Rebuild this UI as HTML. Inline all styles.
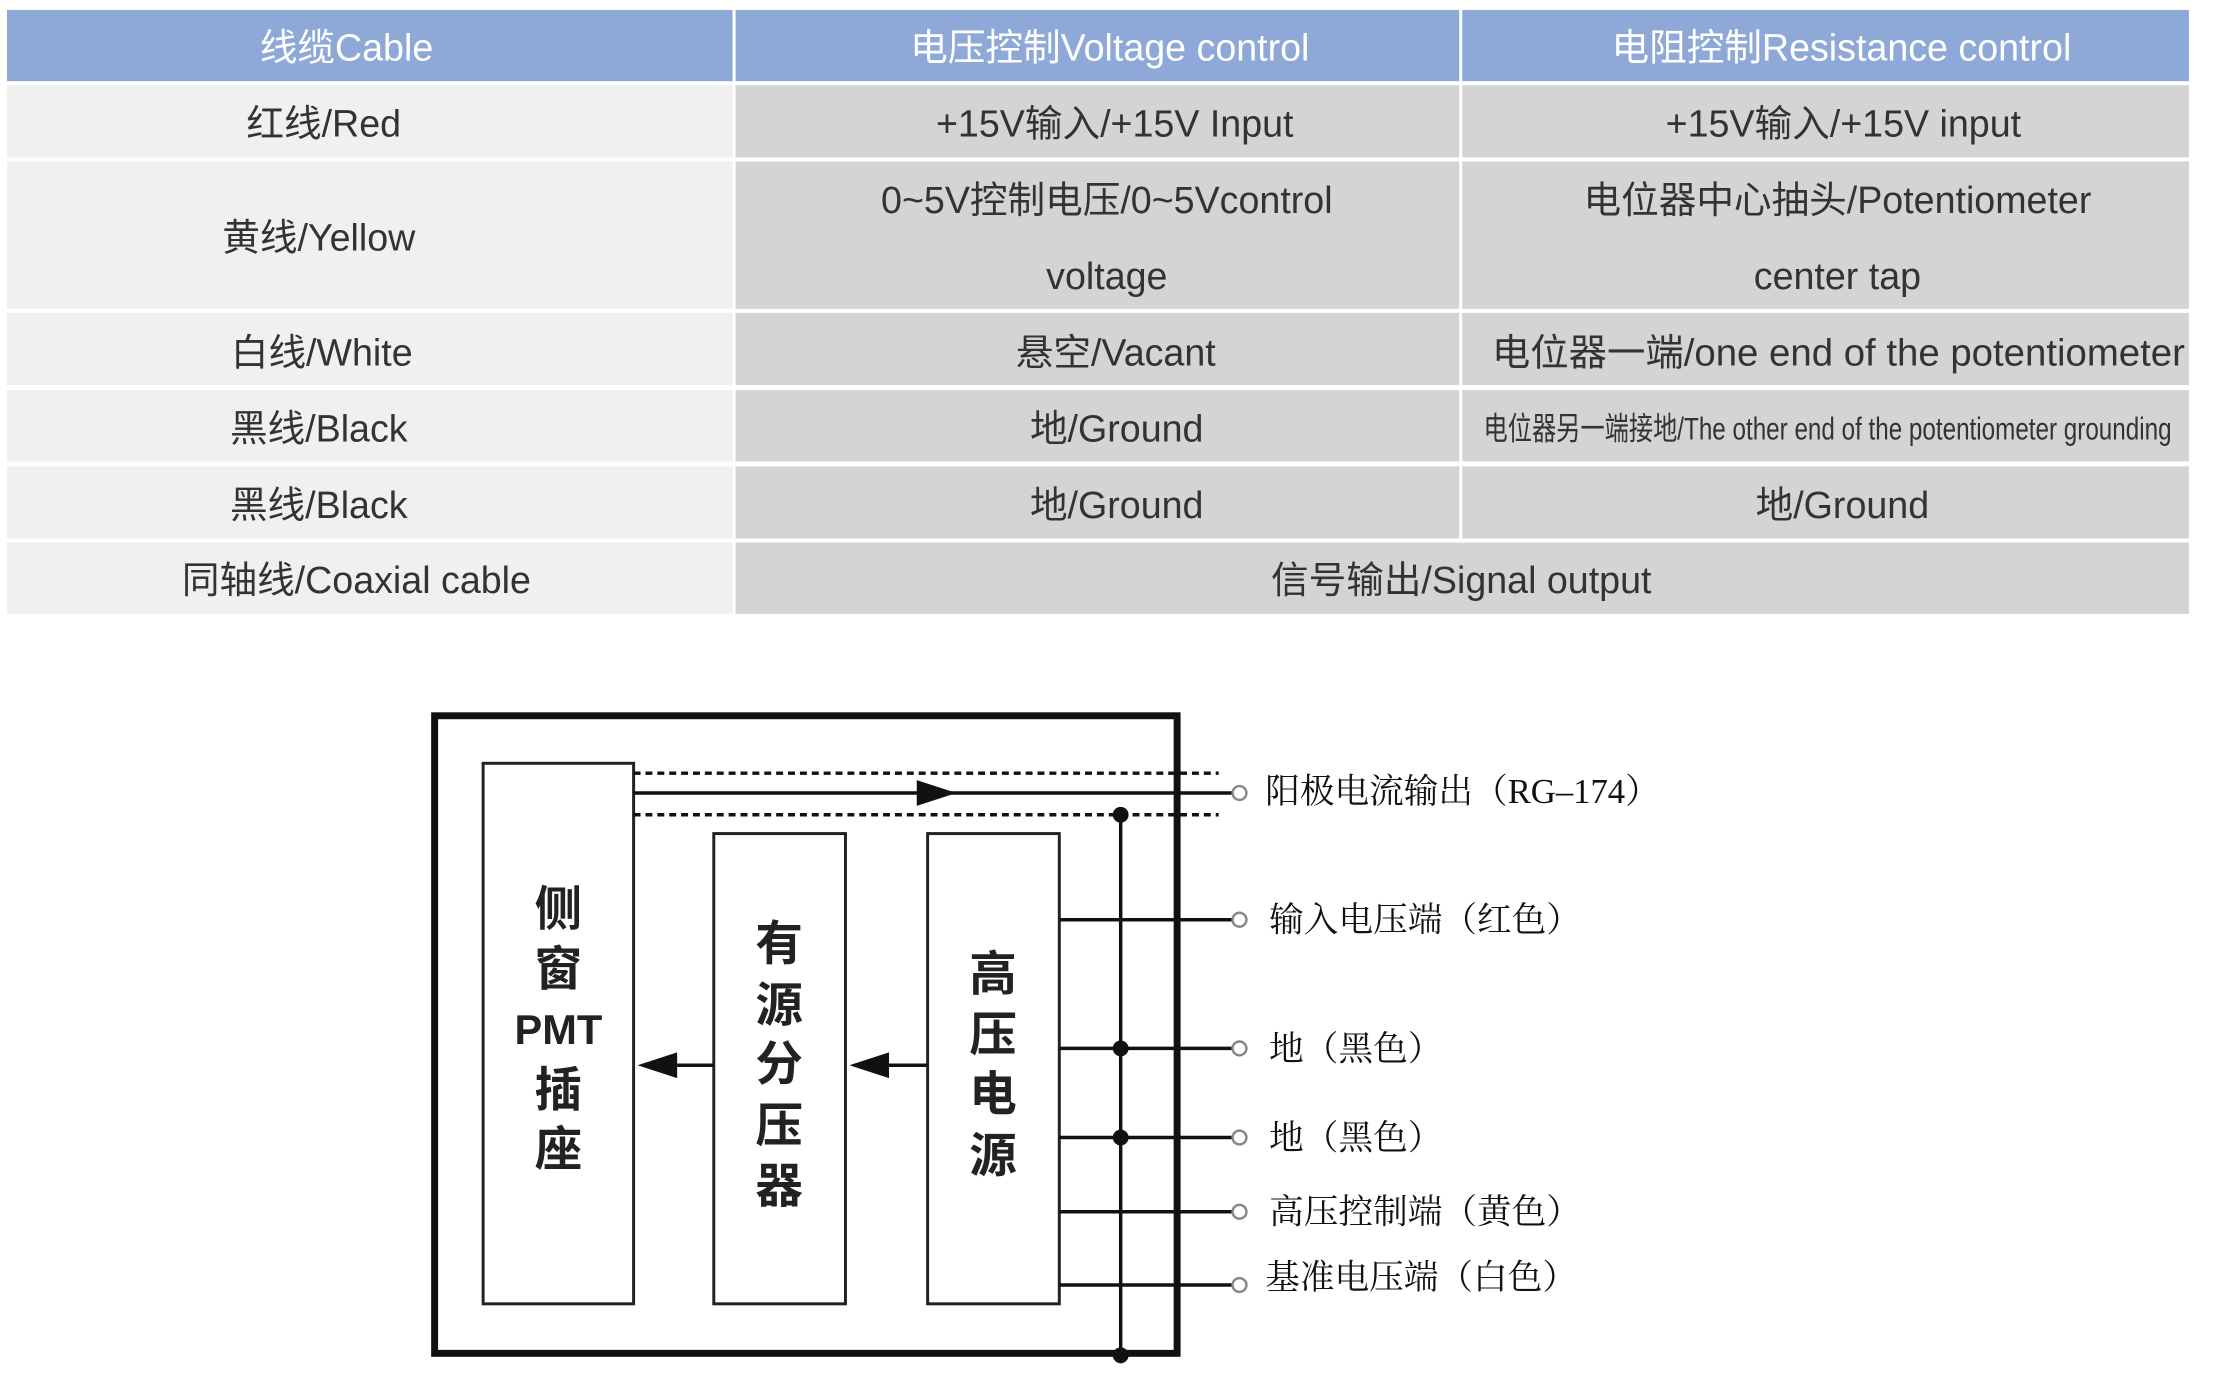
<!DOCTYPE html>
<html><head><meta charset="utf-8"><style>
html,body{margin:0;padding:0;background:#fff;}
svg{display:block;}
.t{font-family:"Liberation Sans","Noto Sans CJK SC",sans-serif;font-size:38px;fill:#333;text-anchor:middle;dominant-baseline:central;}
.h{fill:#fff;}
.b{font-family:"Liberation Sans","Noto Sans CJK SC",sans-serif;font-size:48px;font-weight:bold;fill:#222;text-anchor:middle;dominant-baseline:central;}
.l{font-family:"Liberation Serif","Noto Serif CJK SC",serif;font-size:35px;fill:#111;dominant-baseline:central;}
</style></head><body>
<svg width="2218" height="1387" viewBox="0 0 2218 1387" xmlns="http://www.w3.org/2000/svg">
<rect width="2218" height="1387" fill="#fff"/>
<g transform="scale(0.99)">
<rect x="7" y="10" width="733" height="72" fill="#8EA9D8"/>
<rect x="743" y="10" width="731" height="72" fill="#8EA9D8"/>
<rect x="1477" y="10" width="734" height="72" fill="#8EA9D8"/>
<text class="t h" x="350" y="48">线缆Cable</text>
<text class="t h" x="1121" y="48">电压控制Voltage control</text>
<text class="t h" x="1860" y="48">电阻控制Resistance control</text>
<g fill="#F0F0F0">
<rect x="7" y="86" width="733" height="73"/><rect x="7" y="163" width="733" height="149"/>
<rect x="7" y="316" width="733" height="73"/><rect x="7" y="394" width="733" height="72"/>
<rect x="7" y="471" width="733" height="73"/><rect x="7" y="548" width="733" height="72"/>
</g>
<g fill="#D4D4D4">
<rect x="743" y="86" width="731" height="73"/><rect x="1477" y="86" width="734" height="73"/>
<rect x="743" y="163" width="731" height="149"/><rect x="1477" y="163" width="734" height="149"/>
<rect x="743" y="316" width="731" height="73"/><rect x="1477" y="316" width="734" height="73"/>
<rect x="743" y="394" width="731" height="72"/><rect x="1477" y="394" width="734" height="72"/>
<rect x="743" y="471" width="731" height="73"/><rect x="1477" y="471" width="734" height="73"/>
<rect x="743" y="548" width="1468" height="72"/>
</g>
<text class="t" x="327" y="125">红线/Red</text>
<text class="t" x="1126" y="125">+15V输入/+15V Input</text>
<text class="t" x="1862" y="125">+15V输入/+15V input</text>
<text class="t" x="322" y="240">黄线/Yellow</text>
<text class="t" x="1118" y="202">0~5V控制电压/0~5Vcontrol</text>
<text class="t" x="1118" y="279">voltage</text>
<text class="t" x="1856" y="202">电位器中心抽头/Potentiometer</text>
<text class="t" x="1856" y="279">center tap</text>
<text class="t" x="325" y="356">白线/White</text>
<text class="t" x="1127" y="356">悬空/Vacant</text>
<text class="t" x="1857" y="356" textLength="700" lengthAdjust="spacingAndGlyphs">电位器一端/one end of the potentiometer</text>
<text class="t" x="322" y="433">黑线/Black</text>
<text class="t" x="1128" y="433">地/Ground</text>
<text class="t" x="1846" y="433" style="font-size:32px" textLength="695" lengthAdjust="spacingAndGlyphs">电位器另一端接地/The other end of the potentiometer grounding</text>
<text class="t" x="322" y="510">黑线/Black</text>
<text class="t" x="1128" y="510">地/Ground</text>
<text class="t" x="1861" y="510">地/Ground</text>
<text class="t" x="360" y="586">同轴线/Coaxial cable</text>
<text class="t" x="1476" y="586">信号输出/Signal output</text>

<rect x="439" y="723" width="750" height="644" fill="none" stroke="#111" stroke-width="7"/>
<g fill="#fff" stroke="#222" stroke-width="3">
<rect x="488" y="771" width="152" height="546"/>
<rect x="721" y="842" width="133" height="475"/>
<rect x="937" y="842" width="133" height="475"/>
</g>
<g stroke="#111" stroke-width="3.5">
<line x1="640" y1="781" x2="1231" y2="781" stroke-dasharray="7,5"/>
<line x1="640" y1="823" x2="1231" y2="823" stroke-dasharray="7,5"/>
<line x1="640" y1="801" x2="1245" y2="801"/>
<line x1="1132" y1="823" x2="1132" y2="1377"/>
<line x1="1070" y1="929" x2="1245" y2="929"/>
<line x1="1070" y1="1059" x2="1245" y2="1059"/>
<line x1="1070" y1="1149" x2="1245" y2="1149"/>
<line x1="1070" y1="1224" x2="1245" y2="1224"/>
<line x1="1070" y1="1298" x2="1245" y2="1298"/>
<line x1="684" y1="1076" x2="721" y2="1076"/>
<line x1="898" y1="1076" x2="937" y2="1076"/>
</g>
<g fill="#111">
<polygon points="926,788 966,801 926,814"/>
<polygon points="644,1076 684,1063 684,1089"/>
<polygon points="858,1076 898,1063 898,1089"/>
<circle cx="1132" cy="823" r="8"/><circle cx="1132" cy="1059" r="8"/>
<circle cx="1132" cy="1149" r="8"/><circle cx="1132" cy="1369" r="8"/>
</g>
<g fill="#fff" stroke="#888" stroke-width="2.5">
<circle cx="1252" cy="801" r="7"/><circle cx="1252" cy="929" r="7"/>
<circle cx="1252" cy="1059" r="7"/><circle cx="1252" cy="1149" r="7"/>
<circle cx="1252" cy="1224" r="7"/><circle cx="1252" cy="1298" r="7"/>
</g>
<text class="b" x="564" y="919">侧</text><text class="b" x="564" y="980">窗</text>
<text class="b" x="564" y="1040" style="font-size:42px">PMT</text>
<text class="b" x="564" y="1102">插</text><text class="b" x="564" y="1162">座</text>
<text class="b" x="787" y="954">有</text><text class="b" x="787" y="1016">源</text>
<text class="b" x="787" y="1076">分</text><text class="b" x="787" y="1138">压</text><text class="b" x="787" y="1199">器</text>
<text class="b" x="1003" y="985">高</text><text class="b" x="1003" y="1046">压</text>
<text class="b" x="1003" y="1106">电</text><text class="b" x="1003" y="1168">源</text>
<text class="l" x="1278" y="800">阳极电流输出（RG–174）</text>
<text class="l" x="1282" y="930">输入电压端（红色）</text>
<text class="l" x="1282" y="1060">地（黑色）</text>
<text class="l" x="1282" y="1150">地（黑色）</text>
<text class="l" x="1282" y="1225">高压控制端（黄色）</text>
<text class="l" x="1278" y="1291">基准电压端（白色）</text>
</g>
</svg>
</body></html>
